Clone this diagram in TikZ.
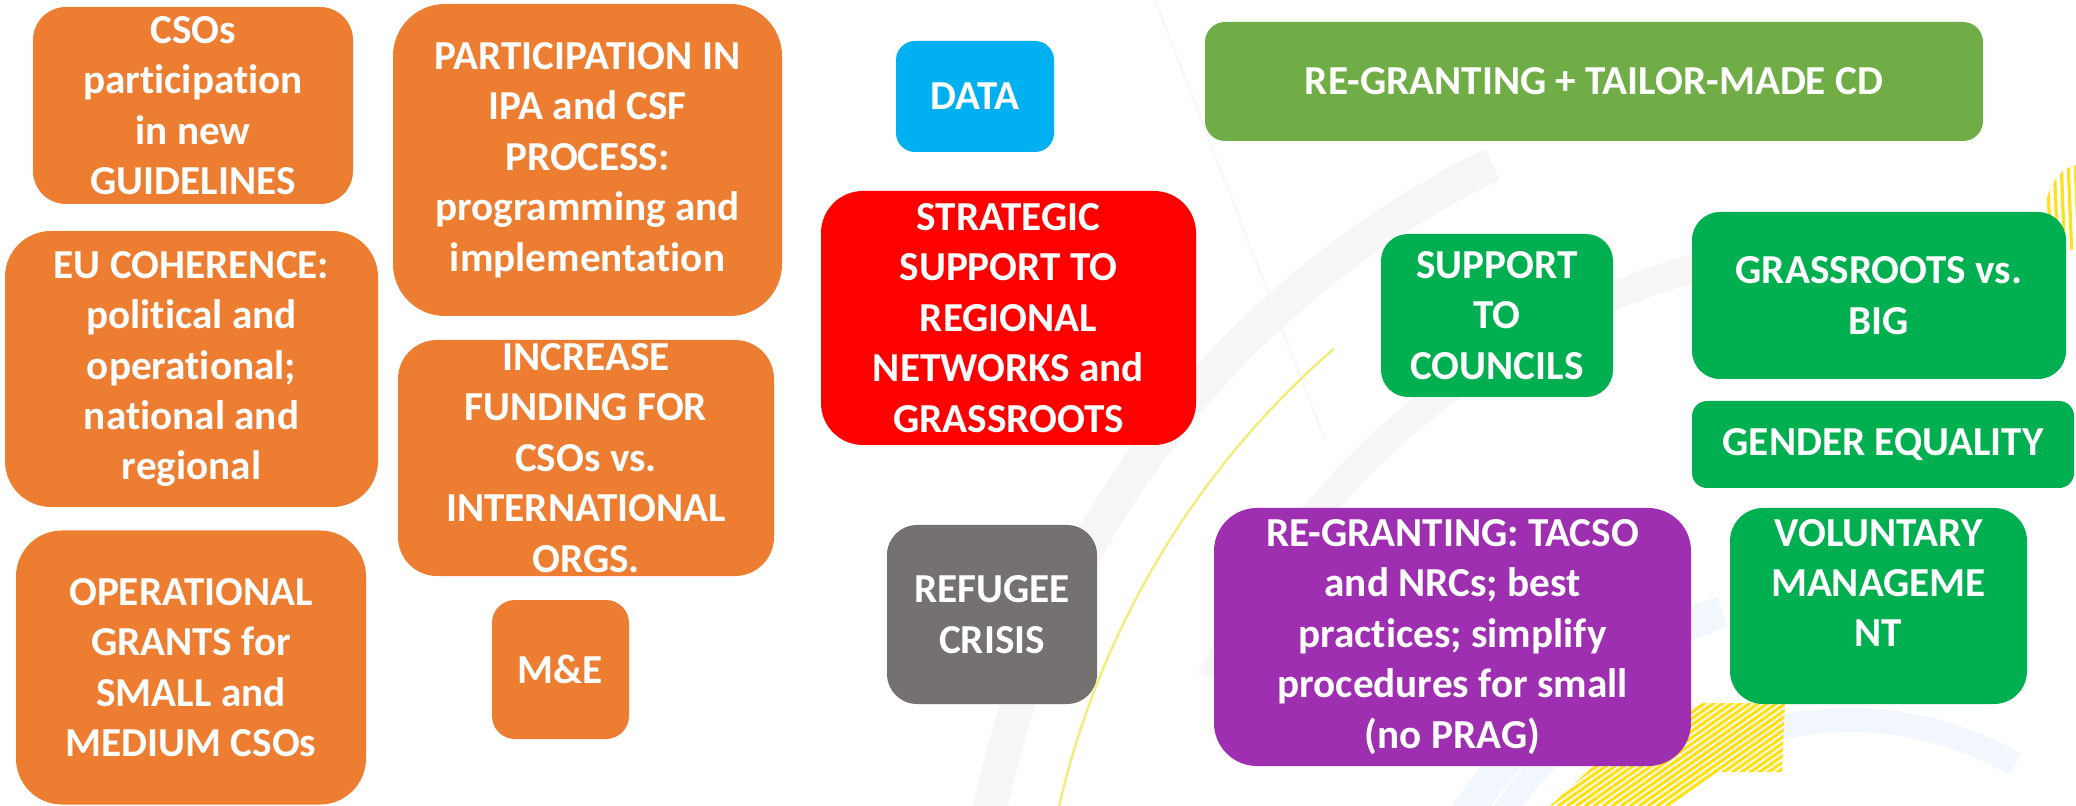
\documentclass[tikz,border=0pt]{standalone}
\usepackage{fontspec}
\setmainfont{Carlito}[Ligatures=NoCommon]
\definecolor{corange}{HTML}{ED7D31}
\definecolor{cblue}{HTML}{00B0F0}
\definecolor{clime}{HTML}{70AD47}
\definecolor{cred}{HTML}{FF0000}
\definecolor{cgray}{HTML}{767171}
\definecolor{cpurple}{HTML}{9E2FB0}
\definecolor{cgreen}{HTML}{00B050}
\definecolor{bgband}{HTML}{F6F6F6}
\definecolor{bgblue}{HTML}{F1F7FD}
\definecolor{cyellow}{HTML}{F2EC7A}
\definecolor{hatch}{HTML}{FFE11A}
\tikzset{
  box/.style={rounded corners, text=white, align=center, inner sep=0pt,
    font=\bfseries\fontsize{20.6}{25.2}\selectfont},
  boxtext/.style={text=white, align=center, inner sep=0pt,
    font=\bfseries\fontsize{20.6}{25.2}\selectfont},
}
\begin{document}
\begin{tikzpicture}[x=0.5pt,y=-0.5pt]
\useasboundingbox (0,0) rectangle (2076,806);
\fill[white] (0,0) rectangle (2076,806);
% background decoration
\begin{scope}
\clip (0,0) rectangle (2076,806);
\draw[bgband, line width=17pt] (1900,1000) ++(244:930) arc[start angle=244, end angle=182, radius=930];
\draw[bgband, line width=14pt] (1900,1000) ++(262:760) arc[start angle=262, end angle=205, radius=760];
\draw[bgblue, line width=16pt] (1900,1100) ++(250:520) arc[start angle=250, end angle=190, radius=520];
\draw[bgblue, line width=12pt] (1850,1050) ++(300:330) arc[start angle=300, end angle=235, radius=330];
\draw[bgblue, line width=12pt] (1850,1050) ++(225:420) arc[start angle=225, end angle=195, radius=420];
\draw[gray!6, line width=1pt] (1155,0) -- (1325,440);
\draw[cyellow, line width=1.2pt] (1900,1000) ++(229:863) arc[start angle=229, end angle=185, radius=863];
% hatch patch right edge
\begin{scope}
\clip (2076,165) .. controls (2050,170) and (2038,210) .. (2045,250) -- (2076,250) -- cycle;
\foreach \i in {0,...,6} {\draw[hatch, line width=1.6pt] (2040+\i*7,160) -- (2044+\i*7,260);}
\end{scope}
% hatch patch bottom
\begin{scope}
\clip (1550,806) -- (1600,760) -- (1640,738) -- (1700,703) -- (1785,703) -- (1782,772) -- (1720,772) -- (1670,806) -- cycle;
\foreach \i in {0,...,40} {\draw[hatch, line width=1.6pt] (1450+\i*9,806) -- ++(200,-140);}
\end{scope}
\end{scope}
% orange boxes
\node[box, fill=corange, minimum width=160pt, minimum height=98.5pt, rounded corners=16.5pt] (csos) at (193,105.5) {CSOs\\participation\\in new\\GUIDELINES};
\node[box, fill=corange, minimum width=194.5pt, minimum height=156pt, rounded corners=26pt] (ipa) at (587.5,160) {PARTICIPATION IN\\IPA and CSF\\PROCESS:\\programming and\\implementation};
\node[box, fill=corange, minimum width=186.5pt, minimum height=138pt, rounded corners=23pt] (eu) at (191.5,369) {EU COHERENCE:\\political and\\operational;\\national and\\regional};
\node[box, fill=corange, minimum width=188pt, minimum height=118pt, rounded corners=19.5pt] (fund) at (586,458) {INCREASE\\FUNDING FOR\\CSOs vs.\\INTERNATIONAL\\ORGS.};
\node[box, fill=corange, minimum width=175pt, minimum height=137pt, rounded corners=23pt] (oper) at (191,667.5) {OPERATIONAL\\GRANTS for\\SMALL and\\MEDIUM CSOs};
\node[box, fill=corange, minimum width=68.5pt, minimum height=69.5pt, rounded corners=11.5pt] (me) at (560.5,669.5) {M\&E};
% middle
\node[box, fill=cblue, minimum width=79pt, minimum height=55.5pt, rounded corners=9.5pt] (data) at (975,96.5) {DATA};
\node[box, fill=cred, minimum width=187.5pt, minimum height=127pt, rounded corners=21pt] (strat) at (1008.5,318) {STRATEGIC\\SUPPORT TO\\REGIONAL\\NETWORKS and\\GRASSROOTS};
\node[box, fill=cgray, minimum width=105pt, minimum height=89.5pt, rounded corners=15pt] (refugee) at (992,614.5) {REFUGEE\\CRISIS};
% right
\node[box, fill=clime, minimum width=389pt, minimum height=59.5pt, rounded corners=10pt] (regrant) at (1594,81.5) {RE-GRANTING + TAILOR-MADE CD};
\node[box, fill=cgreen, minimum width=116pt, minimum height=81.5pt, rounded corners=13.5pt] (councils) at (1497,315.5) {SUPPORT\\TO\\COUNCILS};
\node[box, fill=cgreen, minimum width=187pt, minimum height=83.5pt, rounded corners=14pt] (grass) at (1879,295.5) {GRASSROOTS vs.\\BIG};
\node[box, fill=cgreen, minimum width=191pt, minimum height=43.5pt, rounded corners=7.5pt] (gender) at (1883,444.5) {GENDER EQUALITY};
\node[box, fill=cpurple, minimum width=238.5pt, minimum height=129pt, rounded corners=21.5pt] (tacso) at (1452.5,637) {RE-GRANTING: TACSO\\and NRCs; best\\practices; simplify\\procedures for small\\(no PRAG)};
\node[box, fill=cgreen, minimum width=148.5pt, minimum height=98pt, rounded corners=16.5pt] (vol) at (1878.5,606) {};
\node[boxtext] (voltext) at (1878.5,583) {VOLUNTARY\\MANAGEME\\NT};
\end{tikzpicture}
\end{document}
